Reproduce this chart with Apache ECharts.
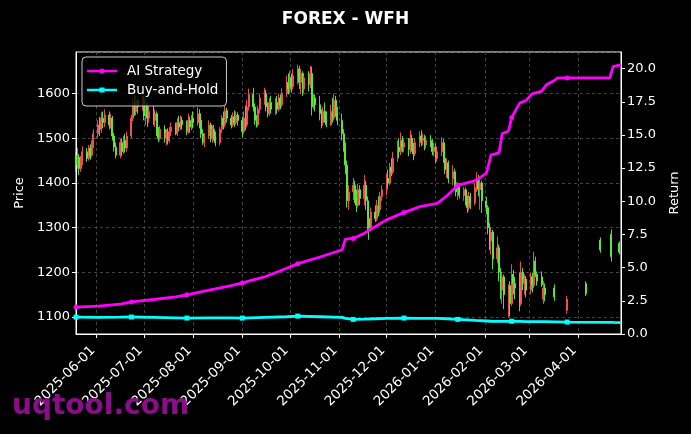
<!DOCTYPE html>
<html><head><meta charset="utf-8">
<script src="https://cdn.jsdelivr.net/npm/echarts@6/dist/echarts.min.js"></script>
<style>html,body{margin:0;padding:0;background:#000;}#c{width:691px;height:434px;}</style>
</head><body><div id="c"></div>
<script>
const chartTitle = 'FOREX - WFH';
const startDate = '2025-05-19';
const endDate = '2026-04-28';
const monthTicks = ['2025-06-01','2025-07-01','2025-08-01','2025-09-01','2025-10-01','2025-11-01','2025-12-01','2026-01-01','2026-02-01','2026-03-01','2026-04-01'];

// weekday candles, one row per week (Mon..Fri), each [open, close, low, high]; null = no bar
const candleWeeks = [
 [[1462,1440,1425,1470],[1440,1458,1432,1478],[1458,1432,1418,1465],[1432,1448,1425,1460],[1448,1470,1440,1482]],
 [[1470,1455,1447,1478],[1455,1478,1450,1485],[1478,1462,1452,1486],[1462,1485,1458,1495],[1485,1510,1478,1520]],
 [[1510,1530,1500,1540],[1530,1520,1505,1548],[1520,1545,1512,1558],[1545,1535,1522,1560],[1535,1552,1525,1565]],
 [[1552,1530,1520,1560],[1530,1545,1522,1555],[1545,1505,1495,1550],[1505,1480,1470,1512],[1480,1462,1455,1490]],
 [[1462,1490,1455,1498],[1490,1470,1460,1500],[1470,1495,1465,1505],[1495,1478,1468,1510],[1478,1505,1470,1515]],
 [[1505,1545,1500,1552],[1545,1580,1538,1590],[1580,1560,1550,1600],[1560,1585,1552,1595],[1585,1570,1555,1592]],
 [[1570,1590,1562,1598],[1590,1550,1540,1595],[1550,1575,1530,1582],[1575,1545,1525,1580],[1545,1560,1535,1572]],
 [[1560,1540,1530,1573],[1540,1555,1525,1565],[1555,1515,1505,1560],[1515,1500,1491,1525],[1500,1520,1495,1528]],
 [[1520,1500,1490,1529],[1500,1512,1484,1520],[1512,1495,1486,1522],[1495,1515,1490,1525],[1515,1525,1505,1535]],
 [[1525,1510,1507,1535],[1510,1535,1505,1545],[1535,1525,1515,1550],[1525,1540,1518,1551],[1540,1530,1520,1548]],
 [[1530,1515,1507,1540],[1515,1540,1510,1555],[1540,1525,1512,1548],[1525,1545,1518,1552],[1545,1535,1522,1560]],
 [[1535,1555,1528,1569],[1555,1540,1522,1565],[1540,1510,1500,1545],[1510,1490,1485,1520],[1490,1505,1480,1512]],
 [[1505,1530,1498,1540],[1530,1500,1491,1535],[1500,1520,1490,1528],[1520,1505,1495,1530],[1505,1490,1482,1515]],
 [[1490,1520,1484,1525],[1520,1545,1512,1552],[1545,1530,1520,1560],[1530,1562,1525,1573],[1562,1545,1535,1568]],
 [[1545,1530,1522,1552],[1530,1548,1525,1558],[1548,1535,1525,1562],[1535,1552,1530,1560],[1552,1540,1528,1558]],
 [[1540,1515,1502,1548],[1515,1545,1510,1560],[1545,1530,1518,1573],[1530,1570,1525,1585],[1570,1598,1562,1611]],
 [[1598,1570,1560,1613],[1570,1540,1530,1578],[1540,1530,1524,1552],[1530,1565,1526,1572],[1565,1590,1555,1600]],
 [[1590,1600,1575,1613],[1600,1570,1560,1608],[1570,1555,1547,1580],[1555,1580,1550,1590],[1580,1565,1555,1595]],
 [[1565,1580,1552,1590],[1580,1565,1555,1595],[1565,1590,1560,1600],[1590,1575,1565,1598],[1575,1600,1570,1612]],
 [[1600,1625,1592,1640],[1625,1610,1598,1645],[1610,1635,1600,1650],[1635,1615,1602,1645],[1615,1640,1610,1655]],
 [[1640,1655,1620,1665],[1655,1625,1610,1662],[1625,1645,1600,1655],[1645,1610,1595,1650],[1610,1635,1600,1640]],
 [[1635,1620,1605,1650],[1620,1645,1612,1662],[1645,1570,1551,1660],[1570,1590,1565,1600],[1590,1575,1560,1598]],
 [[1575,1555,1540,1595],[1555,1535,1522,1565],[1535,1560,1528,1570],[1560,1545,1535,1580],[1545,1530,1525,1560]],
 [[1530,1560,1528,1575],[1560,1545,1535,1590],[1545,1585,1540,1600],[1585,1560,1548,1595],[1560,1540,1529,1570]],
 [[1540,1510,1495,1555],[1510,1480,1470,1520],[1480,1440,1420,1490],[1440,1360,1345,1450],[1360,1380,1340,1395]],
 [[1380,1395,1362,1411],[1395,1370,1355,1405],[1370,1350,1335,1385],[1350,1385,1345,1398],[1385,1365,1350,1395]],
 [[1365,1395,1350,1418],[1395,1360,1340,1405],[1360,1320,1290,1370],[1320,1300,1273,1340],[1300,1335,1292,1345]],
 [[1335,1320,1313,1350],[1320,1350,1315,1362],[1350,1340,1325,1370],[1340,1370,1332,1380],[1370,1385,1360,1395]],
 [[1385,1410,1373,1420],[1410,1400,1390,1430],[1400,1435,1395,1445],[1435,1425,1415,1455],[1425,1455,1420,1469]],
 [[1455,1480,1447,1495],[1480,1470,1458,1500],[1470,1495,1462,1513],[1495,1480,1468,1505],[1480,1490,1470,1500]],
 [[1490,1475,1460,1500],[1475,1500,1465,1518],[1500,1480,1470,1508],[1480,1465,1451,1490],[1465,1490,1460,1500]],
 [[1490,1505,1480,1515],[1505,1495,1482,1518],[1495,1500,1485,1510],[1500,1485,1473,1508],[1485,1495,1478,1505]],
 [[1495,1490,1480,1507],[1490,1470,1462,1498],[1470,1480,1460,1490],[1480,1455,1444,1488],[1455,1470,1448,1478]],
 [[1470,1490,1460,1502],[1490,1455,1445,1498],[1455,1430,1420,1470],[1430,1445,1412,1455],[1445,1410,1400,1450]],
 [[1410,1425,1395,1440],[1425,1400,1388,1432],[1400,1380,1370,1412],[1380,1395,1362,1402],[1395,1372,1365,1400]],
 [[1372,1385,1360,1391],[1385,1360,1350,1390],[1360,1345,1333,1372],[1345,1370,1338,1380],[1370,1355,1342,1378]],
 [[1355,1390,1350,1400],[1390,1410,1380,1424],[1410,1385,1370,1418],[1385,1400,1340,1410],[1400,1360,1333,1405]],
 [[1360,1345,1330,1369],[1345,1300,1285,1350],[1300,1270,1250,1310],[1270,1290,1240,1298],[1290,1230,1207,1295]],
 [[1230,1255,1220,1280],[1255,1200,1180,1262],[1200,1160,1140,1210],[1160,1190,1130,1200],[1190,1150,1118,1195]],
 [[1150,1170,1100,1173],[1170,1130,1102,1180],[1130,1195,1125,1218],[1195,1175,1151,1205],[1175,1165,1140,1190]],
 [[1165,1130,1113,1200],[1130,1200,1125,1224],[1200,1175,1160,1210],[1175,1185,1150,1195],[1185,1160,1144,1192]],
 [[1160,1190,1151,1200],[1190,1170,1155,1198],[1170,1225,1165,1246],[1225,1195,1189,1235],[1195,1180,1170,1202]],
 [[1190,1172,1167,1202],[1140,1165,1129,1180],[1165,1150,1135,1175],null,null],
 [null,[1165,1145,1136,1173],null,null,null],
 [null,null,[1115,1140,1107,1147],null,null],
 [null,null,null,null,null],
 [[1175,1152,1147,1180],null,null,null,null],
 [null,null,[1272,1250,1244,1278],null,null],
 [null,null,[1285,1235,1224,1296],null,null],
 [[1265,1245,1240,1269],null]
];

const lineDates = ['2025-05-19','2025-06-02','2025-06-16','2025-06-23','2025-07-07','2025-07-21','2025-07-28','2025-08-11','2025-08-25','2025-09-01','2025-09-15','2025-09-29','2025-10-06','2025-10-20','2025-11-03','2025-11-05','2025-11-10','2025-11-17','2025-11-24','2025-12-01','2025-12-12','2025-12-22','2026-01-02','2026-01-08','2026-01-15','2026-01-26','2026-02-02','2026-02-05','2026-02-10','2026-02-12','2026-02-16','2026-02-18','2026-02-23','2026-02-27','2026-03-03','2026-03-09','2026-03-12','2026-03-17','2026-03-19','2026-03-25','2026-04-21','2026-04-23','2026-04-28'];
const aiReturn = [2.03,2.1,2.25,2.42,2.6,2.8,2.95,3.3,3.65,3.85,4.3,4.95,5.3,5.8,6.35,7.15,7.2,7.6,8.1,8.6,9.15,9.6,9.85,10.4,11.2,11.55,12.1,13.5,13.65,15.1,15.3,16.3,17.4,17.6,18.1,18.3,18.8,19.1,19.3,19.3,19.3,20.15,20.3];
const bhReturn = [1.27,1.26,1.27,1.28,1.25,1.22,1.2,1.22,1.22,1.2,1.25,1.3,1.35,1.3,1.25,1.18,1.1,1.12,1.15,1.18,1.2,1.18,1.17,1.15,1.1,1.02,0.98,0.96,0.95,0.95,0.95,0.96,0.95,0.94,0.94,0.93,0.93,0.92,0.92,0.9,0.88,0.87,0.86];
const markerDates = ['2025-05-19','2025-06-23','2025-07-28','2025-09-01','2025-10-06','2025-11-10','2025-12-12','2026-01-15','2026-02-18','2026-03-25'];

const FONT = 'DejaVu Sans';
function parse(s){const p=s.split('-').map(Number);return new Date(p[0],p[1]-1,p[2]).getTime();}
function fmt(v){const d=new Date(v);const p=n=>String(n).padStart(2,'0');return d.getFullYear()+'-'+p(d.getMonth()+1)+'-'+p(d.getDate());}

const s0 = parse(startDate);
const sd = new Date(s0);
const candleData = [];
candleWeeks.forEach((wk,w)=>{wk.forEach((c,k)=>{if(!c)return;const t=new Date(sd.getFullYear(),sd.getMonth(),sd.getDate()+7*w+k).getTime();candleData.push([t,c[0],c[1],c[2],c[3]]);});});
const mset = new Set(markerDates);
const aiData = lineDates.map((d,i)=>mset.has(d)?{value:[parse(d),aiReturn[i]]}:{value:[parse(d),aiReturn[i]],symbol:'none'});
const bhData = lineDates.map((d,i)=>mset.has(d)?{value:[parse(d),bhReturn[i]]}:{value:[parse(d),bhReturn[i]],symbol:'none'});
const tickTs = monthTicks.map(parse);

// legend icons: line with a marker in the middle
const iconDot = 'path://M0 1.8H12.6V4.2H0Z M17.4 1.8H30V4.2H17.4Z M12.4 3A2.6 2.6 0 1 1 17.6 3A2.6 2.6 0 1 1 12.4 3Z';
const iconSq = 'path://M0 1.8H12.6V4.2H0Z M17.4 1.8H30V4.2H17.4Z M12.4 0.4H17.6V5.6H12.4Z';

const chart = echarts.init(document.getElementById('c'),null,{renderer:'canvas'});
chart.setOption({
  backgroundColor:'#000',
  animation:false,
  title:{text:chartTitle,left:'center',top:6,textStyle:{color:'#fff',fontSize:17,fontWeight:'bold',fontFamily:FONT}},
  legend:{data:[{name:'AI Strategy',icon:iconDot},{name:'Buy-and-Hold',icon:iconSq}],orient:'vertical',left:82,top:57,padding:[7,8,9,5],itemGap:5,itemWidth:30,itemHeight:6,
    backgroundColor:'rgba(0,0,0,0.8)',borderColor:'#cccccc',borderWidth:1,borderRadius:4,
    textStyle:{color:'#fff',fontSize:13.5,fontFamily:FONT,padding:[0,0,0,5]}},
  grid:{left:76,right:70,top:52,bottom:100,show:true,borderColor:'#fff',borderWidth:1,backgroundColor:'transparent'},
  xAxis:{type:'value',min:s0,max:parse(endDate),scale:true,
    axisLine:{lineStyle:{color:'#fff',width:1}},
    axisTick:{show:true,customValues:tickTs,length:4,lineStyle:{color:'#fff'}},
    axisLabel:{customValues:tickTs,rotate:45,color:'#fff',fontSize:13.5,fontFamily:FONT,margin:11,padding:[0,5,0,0],formatter:v=>fmt(v)},
    splitLine:{show:true,lineStyle:{color:'#555',type:[3,3],width:0.8}}},
  yAxis:[
    {type:'value',min:1062,max:1693,splitNumber:6,position:'left',
     name:'Price',nameLocation:'middle',nameGap:50,nameTextStyle:{color:'#fff',fontSize:13,fontFamily:FONT},
     axisLine:{show:true,lineStyle:{color:'#fff'}},axisTick:{show:true,length:4,lineStyle:{color:'#fff'}},
     axisLabel:{color:'#fff',fontSize:13,fontFamily:FONT,margin:6,showMinLabel:false,showMaxLabel:false,formatter:v=>String(v)},
     splitLine:{show:true,lineStyle:{color:'#555',type:[3,3],width:0.8}}},
    {type:'value',min:0,max:21.25,interval:2.5,position:'right',
     name:'Return',nameLocation:'middle',nameGap:47,nameTextStyle:{color:'#fff',fontSize:13,fontFamily:FONT},
     axisLine:{show:true,lineStyle:{color:'#fff'}},axisTick:{show:true,length:4,lineStyle:{color:'#fff'}},
     axisLabel:{color:'#fff',fontSize:13,fontFamily:FONT,margin:6,showMaxLabel:false,formatter:v=>v.toFixed(1)},
     splitLine:{show:false}}
  ],
  graphic:[{type:'text',left:12,top:393,z:100,style:{text:'uqtool.com',fill:'#8a0e8a',font:'bold 28px "DejaVu Sans"'}}],
  series:[
    {type:'candlestick',name:'Price',xAxisIndex:0,yAxisIndex:0,data:candleData,barWidth:1.5,
     itemStyle:{color:'#ff5252',color0:'#5ef040',borderColor:'#ff5252',borderColor0:'#5ef040',borderWidth:1,opacity:0.92}},
    {type:'line',name:'AI Strategy',yAxisIndex:1,data:aiData,symbol:'circle',symbolSize:5,showSymbol:true,
     lineStyle:{color:'#ff00ff',width:2.8},itemStyle:{color:'#ff00ff'},z:5},
    {type:'line',name:'Buy-and-Hold',yAxisIndex:1,data:bhData,symbol:'rect',symbolSize:5,showSymbol:true,
     lineStyle:{color:'#00ffff',width:2.8},itemStyle:{color:'#00ffff'},z:5}
  ]
});
</script></body></html>
